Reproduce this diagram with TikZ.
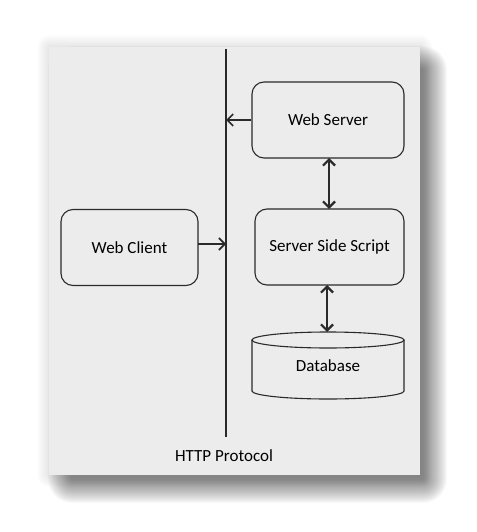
\documentclass[tikz,border=0pt]{standalone}
\usepackage{fontspec}
\setmainfont{Carlito}
\usetikzlibrary{arrows.meta}
\definecolor{panel}{HTML}{ECECEC}
\definecolor{ink}{HTML}{2A2A2A}
\tikzset{
  box/.style={draw=ink, line width=1.1pt, rounded corners=12pt, minimum width=#1, minimum height=76pt, inner sep=0pt, font=\fontsize{17}{20}\selectfont, text=black},
  box/.default=152pt,
  label/.style={font=\fontsize{17}{20}\selectfont, text=black, inner sep=0pt},
  onearrow/.style={draw=ink, line width=1.2pt, -{Straight Barb[length=6pt,width=12pt,line width=1.6pt]}},
  twoarrow/.style={draw=ink, line width=2.2pt, {Straight Barb[length=6pt,width=12pt,line width=2.2pt]}-{Straight Barb[length=6pt,width=12pt,line width=2.2pt]}},
}
\begin{document}
\begin{tikzpicture}[x=1pt,y=-1pt]
\useasboundingbox (0,0) rectangle (476,532);
% faint halo
\foreach \i in {1,...,12}{
  \fill[black, opacity=0.007, rounded corners=\i pt] (49-\i,47-\i) rectangle (420+\i,475+\i);
}
% offset shadow
\foreach \i in {1,...,24}{
  \fill[black, opacity=0.024, rounded corners=\i pt] (72-\i,70-\i) rectangle (423+\i,479+\i);
}
\fill[panel] (49,47) rectangle (420,475);
% protocol line
\coordinate (ltop) at (226,49);
\coordinate (lbot) at (226,437);
\draw[ink, line width=1.2pt] (ltop) -- (lbot);
\coordinate (lws) at (226,120);
\coordinate (lwc) at (226,244);
% nodes
\node[box] (ws) at (328,120) {Web Server};
\node[box=149pt] (sss) at (329.5,247) {Server Side Script};
\node[box=137pt] (wc) at (129.5,247.5) {Web Client};
\node[label, minimum width=152pt, minimum height=67pt] (db) at (328,365.5) {Database};
\draw[ink, line width=1.1pt] (328,340) ellipse [x radius=76, y radius=8];
\draw[ink, line width=1.1pt] (252,340) -- (252,391) arc[start angle=180, end angle=0, x radius=76, y radius=8] -- (404,340);
\node[label, anchor=center] (http) at (224,456) {HTTP Protocol};
% connector end points
\coordinate (a1) at (329,158);
\coordinate (a2) at (329,209);
\coordinate (b1) at (327,285);
\coordinate (b2) at (327,332);
\coordinate (wce) at (198,244);
% connectors
\draw[onearrow] (ws.west) -- (lws);
\draw[onearrow] (wce) -- (lwc);
\draw[twoarrow] (a1) -- (a2);
\draw[twoarrow] (b1) -- (b2);
\end{tikzpicture}
\end{document}
